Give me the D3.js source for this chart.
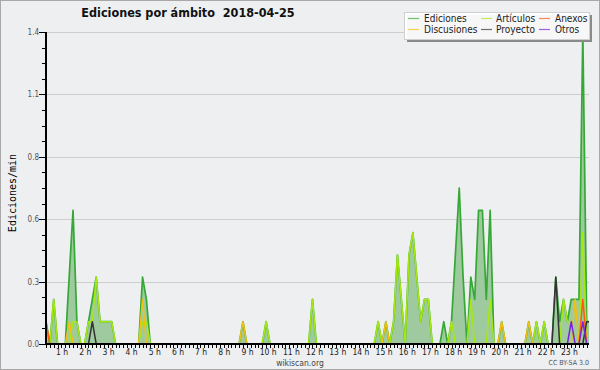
<!DOCTYPE html>
<html>
<head>
<meta charset="utf-8">
<script src="https://cdn.jsdelivr.net/npm/d3@7"></script>
<style>
  body { margin: 0; background: #fff; }
  svg { display: block; }
</style>
</head>
<body>
<div id="chart"></div>
<script>
const title = "Ediciones por ámbito  2018-04-25";
const yTitle = "Ediciones/min";

// one point every 10 minutes, the last one at the time of the snapshot
const minutes = d3.range(0, 1401, 10).concat([1406]);
const hourLabels = d3.range(1, 24).map(h => h + " h");
const yTicks = [0, 0.28, 0.56, 0.84, 1.12, 1.4];

// edits per minute, rows of 2 hours
const ediciones = [
  0.1,0,0.2,0,0,0,0.3,0.6,0.1,0,0,0.1,
  0.2,0.3,0.1,0.1,0.1,0.1,0,0,0,0,0,0,
  0,0.3,0.2,0,0,0,0,0,0,0,0,0,
  0,0,0,0,0,0,0,0,0,0,0,0,
  0,0,0,0.1,0,0,0,0,0,0.1,0,0,
  0,0,0,0,0,0,0,0,0,0.2,0,0,
  0,0,0,0,0,0,0,0,0,0,0,0,
  0,0,0.1,0,0.1,0,0.1,0.4,0.2,0,0.4,0.5,
  0.3,0.1,0.2,0.2,0,0,0,0.1,0,0.1,0.4,0.7,
  0.3,0,0.3,0.2,0.6,0.6,0.2,0.6,0,0,0.1,0,
  0,0,0,0,0,0.1,0,0.1,0,0.1,0,0,
  0.3,0.1,0.2,0.1,0.2,0.2,0.2,1.4,0.1,0.1
];
const articulos = [
  0,0,0.2,0,0,0,0,0.1,0.1,0,0,0.1,
  0.1,0.3,0.1,0.1,0.1,0.1,0,0,0,0,0,0,
  0,0.1,0.1,0,0,0,0,0,0,0,0,0,
  0,0,0,0,0,0,0,0,0,0,0,0,
  0,0,0,0,0,0,0,0,0,0.1,0,0,
  0,0,0,0,0,0,0,0,0,0.2,0,0,
  0,0,0,0,0,0,0,0,0,0,0,0,
  0,0,0.1,0,0,0,0.1,0.4,0.2,0,0.4,0.5,
  0.3,0.1,0.2,0.2,0,0,0,0,0,0.1,0,0,
  0,0,0.2,0,0,0,0,0.2,0,0,0,0,
  0,0,0,0,0,0,0,0.1,0,0.1,0,0,
  0,0,0.2,0.1,0.1,0,0,0.5,0,0
];
const discusiones = [
  0,0,0,0,0,0,0.1,0,0,0,0,0,
  0,0,0,0,0,0,0,0,0,0,0,0,
  0,0.2,0,0,0,0,0,0,0,0,0,0,
  0,0,0,0,0,0,0,0,0,0,0,0,
  0,0,0,0.1,0,0,0,0,0,0,0,0,
  0,0,0,0,0,0,0,0,0,0,0,0,
  0,0,0,0,0,0,0,0,0,0,0,0,
  0,0,0,0,0.1,0,0,0,0,0,0,0,
  0,0,0,0,0,0,0,0,0,0,0,0,
  0,0,0,0,0,0,0,0,0,0,0.1,0,
  0,0,0,0,0,0.1,0,0,0,0,0,0,
  0,0,0,0,0,0.2,0,0.1,0,0
];
const anexos = [
  0.1,0,0,0,0,0,0,0,0,0,0,0,
  0,0,0,0,0,0,0,0,0,0,0,0,
  0,0,0,0,0,0,0,0,0,0,0,0,
  0,0,0,0,0,0,0,0,0,0,0,0,
  0,0,0,0,0,0,0,0,0,0,0,0,
  0,0,0,0,0,0,0,0,0,0,0,0,
  0,0,0,0,0,0,0,0,0,0,0,0,
  0,0,0,0,0,0,0,0,0,0,0,0,
  0,0,0,0,0,0,0,0,0,0,0,0,
  0,0,0,0,0,0,0,0,0,0,0,0,
  0,0,0,0,0,0,0,0,0,0,0,0,
  0,0,0,0,0,0,0,0.2,0,0
];
const proyecto = [
  0,0,0,0,0,0,0,0,0,0,0,0,
  0.1,0,0,0,0,0,0,0,0,0,0,0,
  0,0,0,0,0,0,0,0,0,0,0,0,
  0,0,0,0,0,0,0,0,0,0,0,0,
  0,0,0,0,0,0,0,0,0,0,0,0,
  0,0,0,0,0,0,0,0,0,0,0,0,
  0,0,0,0,0,0,0,0,0,0,0,0,
  0,0,0,0,0,0,0,0,0,0,0,0,
  0,0,0,0,0,0,0,0,0,0,0,0,
  0,0,0,0,0,0,0,0,0,0,0,0,
  0,0,0,0,0,0,0,0,0,0,0,0,
  0.3,0,0,0,0,0,0,0,0.1,0.1
];
const otros = [
  0,0,0,0,0,0,0,0,0,0,0,0,
  0,0,0,0,0,0,0,0,0,0,0,0,
  0,0,0,0,0,0,0,0,0,0,0,0,
  0,0,0,0,0,0,0,0,0,0,0,0,
  0,0,0,0,0,0,0,0,0,0,0,0,
  0,0,0,0,0,0,0,0,0,0,0,0,
  0,0,0,0,0,0,0,0,0,0,0,0,
  0,0,0,0,0,0,0,0,0,0,0,0,
  0,0,0,0,0,0,0,0,0,0,0,0,
  0,0,0,0,0,0,0,0,0,0,0,0,
  0,0,0,0,0,0,0,0,0,0,0,0,
  0,0,0,0,0.1,0,0,0.1,0,0
];

const seriesNames = ["Ediciones", "Artículos", "Anexos", "Discusiones", "Proyecto", "Otros"];
const seriesValues = [ediciones, articulos, anexos, discusiones, proyecto, otros];
const seriesColors = ["#36a836", "#a6e812", "#ff5a14", "#f2c010", "#333333", "#7b22e0"];
// drawing order: total first, then the namespaces on top
const drawOrder = [0, 1, 3, 2, 4, 5];
// legend is laid out by column then row, like the original
const legendOrder = [0, 3, 1, 4, 2, 5];

const width = 600, height = 370;
const margin = { top: 32, right: 10, bottom: 26, left: 46 };
const font = "'DejaVu Sans Condensed', 'DejaVu Sans', sans-serif";

const svg = d3.select("#chart").append("svg")
  .attr("width", width)
  .attr("height", height)
  .style("font-family", font)
  .style("font-stretch", "condensed");

svg.append("rect")
  .attr("x", 0.5).attr("y", 0.5)
  .attr("width", width - 1).attr("height", height - 1)
  .attr("fill", "#eeeff1")
  .attr("stroke", "#a8a8a8");

var x = d3.scaleLinear()
  .domain([0, d3.max(minutes)])
  .range([margin.left, width - margin.right - 1]);

var y = d3.scaleLinear()
  .domain([0, d3.max(yTicks)])
  .range([height - margin.bottom, margin.top]);

// grid
svg.append("g")
  .selectAll("line")
  .data(yTicks.slice(1))
  .join("line")
  .attr("x1", x.range()[0]).attr("x2", x.range()[1])
  .attr("y1", d => Math.round(y(d)) + 0.5).attr("y2", d => Math.round(y(d)) + 0.5)
  .attr("stroke", "#cdcdcd");

// area of the total
const pts = i => minutes.map((m, k) => [m, seriesValues[i][k]]);

svg.append("path")
  .datum(pts(0))
  .attr("fill", "#9fca9f")
  .attr("d", d3.area().x(d => x(d[0])).y0(y(0)).y1(d => y(d[1])));

const line = d3.line().x(d => x(d[0])).y(d => y(d[1]));

svg.append("g")
  .selectAll("path")
  .data(drawOrder)
  .join("path")
  .attr("fill", "none")
  .attr("stroke", i => seriesColors[i])
  .attr("stroke-width", i => i === 0 ? 1.7 : 1.5)
  .attr("stroke-linejoin", "round")
  .attr("d", i => line(pts(i)));

// x axis
const xAxis = svg.append("g")
  .attr("transform", `translate(0,${y(0)})`);

xAxis.append("g")
  .selectAll("line")
  .data(d3.range(0, 1401, 10))
  .join("line")
  .attr("x1", d => Math.round(x(d)) + 0.5).attr("x2", d => Math.round(x(d)) + 0.5)
  .attr("y1", 0).attr("y2", 4)
  .attr("stroke", "#000");

xAxis.append("line")
  .attr("x1", x.range()[0]).attr("x2", x.range()[1])
  .attr("stroke", "#000").attr("stroke-width", 2);

xAxis.append("g")
  .selectAll("text")
  .data(hourLabels)
  .join("text")
  .attr("x", (d, i) => x((i + 1) * 60) - 1)
  .attr("y", 10.5)
  .attr("text-anchor", "end")
  .style("font-size", "8.5px")
  .attr("fill", "#222")
  .text(d => d);

// y axis
const yAxis = svg.append("g")
  .attr("transform", `translate(${x.range()[0]},0)`);

yAxis.append("g")
  .selectAll("line")
  .data(d3.range(0, 1.4001, 0.07))
  .join("line")
  .attr("x1", d => yTicks.some(t => Math.abs(t - d) < 1e-6) ? -7 : -4)
  .attr("x2", 0)
  .attr("y1", d => Math.round(y(d)) + 0.5).attr("y2", d => Math.round(y(d)) + 0.5)
  .attr("stroke", "#000");

yAxis.append("line")
  .attr("y1", y.range()[0] + 1).attr("y2", y.range()[1])
  .attr("stroke", "#000").attr("stroke-width", 2);

yAxis.append("g")
  .selectAll("text")
  .data(yTicks)
  .join("text")
  .attr("x", -7)
  .attr("y", d => y(d) + 3)
  .attr("text-anchor", "end")
  .style("font-size", "8px")
  .attr("fill", "#555")
  .text(d => d3.format(".1f")(d));

svg.append("text")
  .attr("transform", `translate(16,${(y.range()[0] + y.range()[1]) / 2 + 5}) rotate(-90)`)
  .attr("text-anchor", "middle")
  .style("font-family", "'DejaVu Sans Mono', monospace")
  .style("font-size", "10px")
  .attr("fill", "#000")
  .text(yTitle);

// title
svg.append("text")
  .attr("x", 188).attr("y", 17)
  .attr("text-anchor", "middle")
  .style("font-size", "12.5px")
  .style("font-weight", "bold")
  .style("white-space", "pre")
  .attr("fill", "#111")
  .text(title);

svg.append("text")
  .attr("x", width / 2).attr("y", 366)
  .attr("text-anchor", "middle")
  .style("font-size", "8.5px")
  .attr("fill", "#444")
  .text("wikiscan.org");

svg.append("text")
  .attr("x", 589).attr("y", 365)
  .attr("text-anchor", "end")
  .style("font-size", "7px")
  .attr("fill", "#555")
  .text("CC BY-SA 3.0");

// legend
const legend = svg.append("g").attr("transform", "translate(404,12)");
legend.append("rect")
  .attr("x", 3).attr("y", 3).attr("width", 185).attr("height", 27)
  .attr("fill", "#8a8a8a");
legend.append("rect")
  .attr("x", 0.5).attr("y", 0.5).attr("width", 185).attr("height", 27)
  .attr("fill", "rgba(255,255,255,0.93)")
  .attr("stroke", "#d0d0d0");

const colX = [4, 77, 135];
const item = legend.selectAll("g.item")
  .data(legendOrder)
  .join("g")
  .attr("class", "item")
  .attr("transform", (d, k) => `translate(${colX[Math.floor(k / 2)]},${k % 2 ? 17.5 : 6.5})`);

item.append("line")
  .attr("x1", 0).attr("x2", 11)
  .attr("stroke", i => seriesColors[i])
  .attr("stroke-opacity", 0.7)
  .attr("stroke-width", 1.2);

item.append("text")
  .attr("x", (d, k) => Math.floor(k / 2) === 1 ? 15 : 16)
  .attr("y", 3.5)
  .style("font-size", "10px")
  .attr("fill", "#222")
  .text(i => seriesNames[i]);
</script>
</body>
</html>
